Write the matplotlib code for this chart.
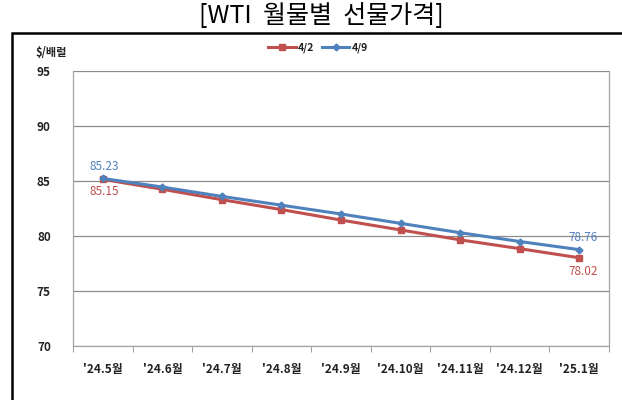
import matplotlib
matplotlib.use("Agg")
import matplotlib.pyplot as plt
from matplotlib.patches import Rectangle

plt.rcParams["font.family"] = ["Noto Sans CJK KR", "DejaVu Sans"]

months = ["'24.5월", "'24.6월", "'24.7월", "'24.8월", "'24.9월",
          "'24.10월", "'24.11월", "'24.12월", "'25.1월"]
price_0402 = [85.15, 84.25, 83.3, 82.4, 81.45, 80.55, 79.65, 78.85, 78.02]
price_0409 = [85.23, 84.45, 83.6, 82.8, 82.0, 81.15, 80.3, 79.5, 78.76]
y_ticks = [70, 75, 80, 85, 90, 95]

RED = "#C0504D"
BLUE = "#4F81BD"
GRID = "#8C8C8C"

fig = plt.figure(figsize=(6.22, 4.0), dpi=100)
ax = fig.add_axes([73 / 622, 1 - 346 / 400, (609 - 73) / 622, (346 - 71) / 400])

x = list(range(len(months)))
ax.plot(x, price_0402, color=RED, lw=2.2, marker="s", ms=5, label="4/2", zorder=3)
ax.plot(x, price_0409, color=BLUE, lw=2.2, marker="D", ms=3.5, label="4/9", zorder=4)

ax.set_xlim(-0.5, len(months) - 0.5)
ax.set_ylim(70, 95)
ax.set_yticks(y_ticks)
ax.set_xticks(x)
ax.set_xticklabels(months)
ax.set_xticks([i - 0.5 for i in range(len(months) + 1)], minor=True)
ax.tick_params(axis="x", which="major", length=0, pad=12, labelsize=8.5)
ax.tick_params(axis="x", which="minor", length=4, color=GRID, direction="out")
ax.tick_params(axis="y", length=0, pad=16, labelsize=8.5)
for lbl in ax.get_xticklabels() + ax.get_yticklabels():
    lbl.set_fontweight("bold")
    lbl.set_color("#222222")

ax.grid(axis="y", color=GRID, lw=0.9)
ax.set_axisbelow(True)
for side in ["left", "right", "top", "bottom"]:
    ax.spines[side].set_color("#A6A6A6")
    ax.spines[side].set_linewidth(0.9)
ax.spines["top"].set_visible(False)

# end-point data labels
ax.annotate(f"{price_0409[0]:.2f}", (0, price_0409[0]), xytext=(1, 4),
            textcoords="offset points", ha="center", va="bottom", color=BLUE, fontsize=8.5)
ax.annotate(f"{price_0402[0]:.2f}", (0, price_0402[0]), xytext=(1, -4),
            textcoords="offset points", ha="center", va="top", color=RED, fontsize=8.5)
ax.annotate(f"{price_0409[-1]:.2f}", (8, price_0409[-1]), xytext=(3, 4),
            textcoords="offset points", ha="center", va="bottom", color=BLUE, fontsize=8.5)
ax.annotate(f"{price_0402[-1]:.2f}", (8, price_0402[-1]), xytext=(3, -5),
            textcoords="offset points", ha="center", va="top", color=RED, fontsize=8.5)

leg = fig.legend(loc="center", bbox_to_anchor=(318 / 622, 1 - 48 / 400), ncol=2, frameon=False,
                 fontsize=7.5, handlelength=2.6, columnspacing=0.8, handletextpad=0.2)
for t in leg.get_texts():
    t.set_fontweight("bold")
    t.set_color("#222222")

fig.text(35 / 622, 1 - 53 / 400, "$/배럴", fontsize=8, fontweight="bold",
         va="center", ha="left", color="#222222")
fig.text(321 / 622, 1 - 16 / 400, "[WTI  월물별  선물가격]", fontsize=18,
         ha="center", va="center", color="black", fontweight="medium")

fig.patches.append(Rectangle((12 / 622, -0.05), 1.0, 1 - 33 / 400 + 0.05, transform=fig.transFigure,
                             fill=False, edgecolor="black", lw=1.8))

fig.savefig("out.png", dpi=100)
